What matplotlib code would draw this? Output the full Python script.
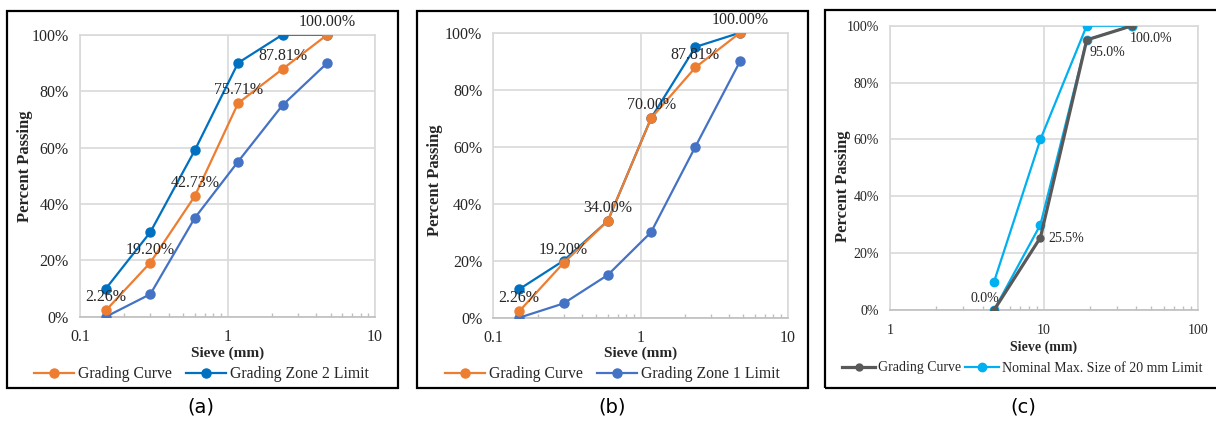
import matplotlib
matplotlib.use("Agg")
import matplotlib.pyplot as plt
from matplotlib.patches import Rectangle
from matplotlib.lines import Line2D
from matplotlib.ticker import FuncFormatter, FixedLocator, LogLocator, NullFormatter

# ---------------- data ----------------
sieve_fine = [0.15, 0.3, 0.6, 1.18, 2.36, 4.75]

a_curve = [2.26, 19.20, 42.73, 75.71, 87.81, 100.0]
a_upper = [10, 30, 59, 90, 100, 100]
a_lower = [0, 8, 35, 55, 75, 90]
a_labels = ["2.26%", "19.20%", "42.73%", "75.71%", "87.81%", "100.00%"]

b_curve = [2.26, 19.20, 34.00, 70.00, 87.81, 100.0]
b_upper = [10, 20, 34, 70, 95, 100]
b_lower = [0, 5, 15, 30, 60, 90]
b_labels = ["2.26%", "19.20%", "34.00%", "70.00%", "87.81%", "100.00%"]

sieve_coarse = [4.75, 9.5, 19, 37.5]
c_curve = [0.0, 25.5, 95.0, 100.0]
c_upper = [10, 60, 100, 100]
c_lower = [0, 30, 95, 100]
c_labels = ["0.0%", "25.5%", "95.0%", "100.0%"]

y_ticks = [0, 20, 40, 60, 80, 100]
panel_names = ["(a)", "(b)", "(c)"]

# ---------------- style ----------------
SERIF = ["Liberation Serif", "DejaVu Serif"]
ORANGE = "#ED7D31"
BLUE = "#0070C0"
BLUE2 = "#4472C4"
GRAY = "#595959"
LBLUE = "#00B0F0"
GRID = "#D9D9D9"
TXT = "#262626"

W, H = 1216, 421
fig = plt.figure(figsize=(W / 100, H / 100), dpi=100)


def px_rect(x0, y0, x1, y1):
    return [x0 / W, 1 - y1 / H, (x1 - x0) / W, (y1 - y0) / H]


def setup_axis(ax, xlim, fs, xpad, ypad):
    ax.set_xscale("log")
    ax.set_xlim(*xlim)
    ax.set_ylim(0, 100)
    ax.yaxis.set_major_locator(FixedLocator(y_ticks))
    ax.yaxis.set_major_formatter(FuncFormatter(lambda v, p: f"{v:.0f}%"))
    ax.xaxis.set_major_formatter(FuncFormatter(lambda v, p: f"{v:g}"))
    ax.xaxis.set_minor_locator(LogLocator(base=10, subs=range(2, 10)))
    ax.xaxis.set_minor_formatter(NullFormatter())
    ax.grid(True, which="major", color=GRID, linewidth=1.2)
    ax.set_axisbelow(True)
    for s in ax.spines.values():
        s.set_color(GRID)
        s.set_linewidth(1.2)
    ax.spines["bottom"].set_color("#BFBFBF")
    ax.tick_params(axis="both", which="major", length=0, labelsize=fs)
    ax.tick_params(axis="x", which="major", pad=xpad)
    ax.tick_params(axis="y", which="major", pad=ypad)
    ax.tick_params(axis="x", which="minor", direction="in", length=3,
                   color="#BFBFBF", width=1)
    for lab in ax.get_xticklabels() + ax.get_yticklabels():
        lab.set_family(SERIF)
        lab.set_color(TXT)


def box(x0, y0, x1, y1):
    fig.patches.append(Rectangle((x0 / W, 1 - y1 / H), (x1 - x0) / W, (y1 - y0) / H,
                                 transform=fig.transFigure, fill=False,
                                 edgecolor="black", linewidth=1.6))


# ---------------- panels (a) & (b) ----------------
fine_panels = [
    dict(rect=px_rect(80, 34.7, 375, 316.7), curve=a_curve, upper=a_upper,
         lower=a_lower, labels=a_labels, limname="Grading Zone 2 Limit",
         bx=(7, 11, 398, 388), ylx=25, yly=166, cx=201, legcol=BLUE,
         name=panel_names[0]),
    dict(rect=px_rect(493.3, 32.7, 787.7, 317.7), curve=b_curve, upper=b_upper,
         lower=b_lower, labels=b_labels, limname="Grading Zone 1 Limit",
         bx=(417, 11, 808, 388), ylx=435, yly=180, cx=612, legcol=BLUE2,
         name=panel_names[1]),
]

for p in fine_panels:
    ax = fig.add_axes(p["rect"])
    ax.plot(sieve_fine, p["upper"], color=BLUE, lw=1.6, marker="o", ms=6.5, zorder=3)
    ax.plot(sieve_fine, p["lower"], color=BLUE2, lw=1.6, marker="o", ms=6.5, zorder=3)
    l_c, = ax.plot(sieve_fine, p["curve"], color=ORANGE, lw=1.6, marker="o", ms=6.5, zorder=4)
    setup_axis(ax, (0.1, 10), 11.5, 9, 8)
    for xv, yv, t in zip(sieve_fine, p["curve"], p["labels"]):
        ax.annotate(t, (xv, yv), xytext=(0, 9.3), textcoords="offset points",
                    ha="center", va="center", fontsize=11.5, family=SERIF,
                    color=TXT, zorder=5)
    box(*p["bx"])
    fig.text(p["ylx"] / W, 1 - p["yly"] / H, "Percent Passing", rotation=90,
             ha="center", va="center", fontsize=12, fontweight="bold",
             family=SERIF, color=TXT)
    r = p["rect"]
    fig.text(r[0] + r[2] / 2, 1 - 353 / H, "Sieve (mm)", ha="center",
             va="center", fontsize=11, fontweight="bold", family=SERIF, color=TXT)
    h2 = Line2D([], [], color=p["legcol"], lw=1.6, marker="o", ms=6.5)
    fig.legend([l_c, h2], ["Grading Curve", p["limname"]], loc="center",
               bbox_to_anchor=(p["cx"] / W, 1 - 374 / H), ncol=2, frameon=False,
               prop={"family": SERIF, "size": 11.3}, handlelength=2.6,
               handletextpad=0.2, columnspacing=0.9, borderaxespad=0,
               labelcolor=TXT)
    fig.text(p["cx"] / W, 1 - 407 / H, p["name"], ha="center", va="center",
             fontsize=14, family=["DejaVu Sans"], color="black")

# ---------------- panel (c) ----------------
rect_c = px_rect(890, 25.7, 1197.7, 310)
axc = fig.add_axes(rect_c)
c_up, = axc.plot(sieve_coarse, c_upper, color=LBLUE, lw=1.6, marker="o", ms=6, zorder=3)
axc.plot(sieve_coarse, c_lower, color=LBLUE, lw=1.6, marker="o", ms=6, zorder=3)
c_c, = axc.plot(sieve_coarse, c_curve, color=GRAY, lw=2.3, marker="o", ms=5, zorder=4)
setup_axis(axc, (1, 100), 10, 10, 8)
c_offsets = [((3.6, 8), "right"), ((6, -1), "left"), ((2, -9), "left"), ((-1.5, -9), "left")]
for xv, yv, t, (off, ha) in zip(sieve_coarse, c_curve, c_labels, c_offsets):
    axc.annotate(t, (xv, yv), xytext=off, textcoords="offset points",
                 ha=ha, va="center", fontsize=10, family=SERIF,
                 color=TXT, zorder=5)
box(825, 10, 1219, 388)
fig.text(843 / W, 1 - 186 / H, "Percent Passing", rotation=90, ha="center",
         va="center", fontsize=12, fontweight="bold", family=SERIF, color=TXT)
fig.text(rect_c[0] + rect_c[2] / 2, 1 - 347 / H, "Sieve (mm)", ha="center",
         va="center", fontsize=10, fontweight="bold", family=SERIF, color=TXT)
fig.legend([c_c, c_up], ["Grading Curve", "Nominal Max. Size of 20 mm Limit"],
           loc="center", bbox_to_anchor=(1022 / W, 1 - 368 / H), ncol=2, frameon=False,
           prop={"family": SERIF, "size": 10}, handlelength=2.4,
           handletextpad=0.2, columnspacing=0.3, borderaxespad=0,
           labelcolor=TXT)
fig.text(1023 / W, 1 - 407 / H, panel_names[2], ha="center", va="center",
         fontsize=14, family=["DejaVu Sans"], color="black")

fig.savefig("out.png", dpi=100)
